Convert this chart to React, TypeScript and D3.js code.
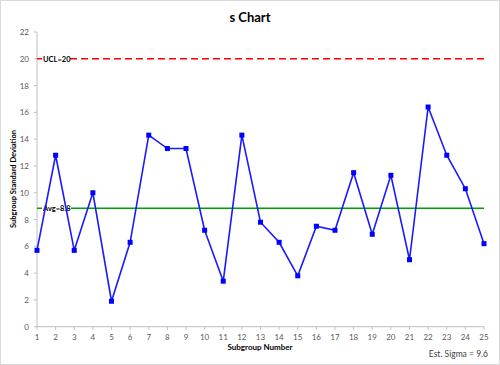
import React, { useEffect } from "react";
import * as d3 from "d3";

const subgroups = d3.range(1, 26);
const sValues = [
  5.7, 12.8, 5.7, 10.0, 1.9, 6.3, 14.3, 13.3, 13.3, 7.2, 3.4, 14.3, 7.8, 6.3, 3.8, 7.5, 7.2, 11.5, 6.9, 11.3, 5.0, 16.4,
  12.8, 10.3, 6.2,
];
const yTicks = [0, 2, 4, 6, 8, 10, 12, 14, 16, 18, 20, 22];
const ucl = 20;
const avg = 8.85;
const avgLabel = "Avg=8.8";
const uclLabel = "UCL=20";
const sigmaLabel = "Est. Sigma = 9.6";

const W = 500;
const H = 365;
const font = "Lato, 'Open Sans', sans-serif";

export default function App() {
  useEffect(() => {
    document.body.style.margin = "0";
  }, []);

  const x = d3.scaleLinear().domain([1, 25]).range([37, 484]);
  const y = d3.scaleLinear().domain([0, 22]).range([326.7, 32]);

  const line = d3
    .line<number>()
    .x((_, i) => x(subgroups[i]))
    .y(d => y(d));

  return (
    <svg width={W} height={H} style={{ display: "block", fontFamily: font }}>
      <rect x={0.5} y={0.5} width={W - 1} height={H - 1} fill="#fff" stroke="#d9d9d9" />
      <text x={250} y={22} textAnchor="middle" fontSize={13} fontWeight="bold" fill="#000">
        s Chart
      </text>

      {/* axes */}
      <line x1={x(1)} x2={x(1)} y1={y(22)} y2={y(0)} stroke="#bfbfbf" />
      <line x1={x(1)} x2={x(25)} y1={y(0)} y2={y(0)} stroke="#bfbfbf" />
      {yTicks.map(t => (
        <g key={t}>
          <line x1={x(1) - 3} x2={x(1)} y1={y(t)} y2={y(t)} stroke="#bfbfbf" />
          <text x={x(1) - 8} y={y(t) + 3} textAnchor="end" fontSize={8} fill="#595959">
            {t}
          </text>
        </g>
      ))}
      {subgroups.map(s => (
        <g key={s}>
          <line x1={x(s)} x2={x(s)} y1={y(0)} y2={y(0) + 3} stroke="#bfbfbf" />
          <text x={x(s)} y={y(0) + 13} textAnchor="middle" fontSize={8} fill="#595959">
            {s}
          </text>
        </g>
      ))}

      <text
        transform="translate(16,179) rotate(-90)"
        textAnchor="middle"
        fontSize={7.5}
        fontWeight="bold"
        fill="#000"
      >
        Subgroup Standard Deviation
      </text>
      <text x={260} y={350} textAnchor="middle" fontSize={8} fontWeight="bold" fill="#000">
        Subgroup Number
      </text>
      <text x={488} y={357} textAnchor="end" fontSize={8.5} fill="#404040">
        {sigmaLabel}
      </text>

      {/* control lines */}
      <line x1={x(1)} x2={x(25)} y1={y(ucl)} y2={y(ucl)} stroke="#ff0000" strokeWidth={1.5} strokeDasharray="7,4" />
      <line x1={x(1)} x2={x(25)} y1={y(avg)} y2={y(avg)} stroke="#00a000" strokeWidth={1.5} />
      <rect x={42} y={y(ucl) - 5} width={26} height={10} fill="#fff" />
      <text x={43} y={y(ucl) + 3} fontSize={7.5} fontWeight="bold" fill="#000">
        {uclLabel}
      </text>
      <rect x={42} y={y(avg) - 5} width={29} height={10} fill="#fff" />
      <text x={43} y={y(avg) + 3} fontSize={7.5} fontWeight="bold" fill="#000">
        {avgLabel}
      </text>

      {/* data */}
      <path d={line(sValues) || ""} fill="none" stroke="#1a1aff" strokeWidth={1.6} />
      {sValues.map((v, i) => (
        <rect key={i} x={x(subgroups[i]) - 2.5} y={y(v) - 2.5} width={5} height={5} fill="#0000ff" />
      ))}
    </svg>
  );
}
